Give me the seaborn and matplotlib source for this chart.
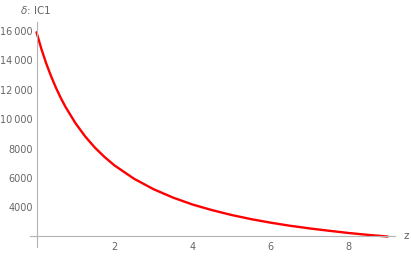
import matplotlib
matplotlib.use("Agg")
import matplotlib.pyplot as plt
import matplotlib.ticker as mticker
import seaborn as sns

# values
z = [0, 0.125, 0.25, 0.375, 0.5, 0.625, 0.75, 1, 1.25, 1.5, 1.75, 2, 2.5,
     3, 3.5, 4, 4.5, 5, 5.5, 6, 6.5, 7, 7.5, 8, 8.5, 9]
ic1 = [15880, 14750, 13760, 12890, 12110, 11410, 10790, 9710, 8810, 8050,
       7410, 6850, 5950, 5240, 4670, 4200, 3820, 3490, 3210, 2970, 2760,
       2580, 2420, 2270, 2140, 2030]

x_ticks = [2, 4, 6, 8]
x_labels = ["2", "4", "6", "8"]
y_ticks = [4000, 6000, 8000, 10000, 12000, 14000, 16000]
y_labels = ["4000", "6000", "8000", "10\u2009000", "12\u2009000", "14\u2009000", "16\u2009000"]
x_minor = [i * 0.5 for i in range(0, 19)]
y_minor = [v for v in range(2500, 17000, 500)]

axis_gray = "#b3b3b3"
text_gray = "#666666"

sns.set_style("white")
plt.rcParams["font.family"] = ["DejaVu Sans"]

fig = plt.figure(figsize=(4.11, 2.56), dpi=100)
ax = fig.add_axes([30 / 411, (256 - 246.7) / 256, 365 / 411, 225 / 256])

sns.lineplot(x=z, y=ic1, color="#ff0000", lw=1.7, ax=ax)

ax.set_xlim(-0.167, 9.19)
ax.set_ylim(1340, 16600)

# Mathematica-style crossing axes
ax.spines["left"].set_position(("data", 0))
ax.spines["bottom"].set_position(("data", 2050))
for s in ["top", "right"]:
    ax.spines[s].set_visible(False)
for s in ["left", "bottom"]:
    ax.spines[s].set_color(axis_gray)
    ax.spines[s].set_linewidth(0.8)

ax.xaxis.set_major_locator(mticker.FixedLocator(x_ticks))
ax.xaxis.set_major_formatter(mticker.FixedFormatter(x_labels))
ax.xaxis.set_minor_locator(mticker.FixedLocator(x_minor))
ax.yaxis.set_major_locator(mticker.FixedLocator(y_ticks))
ax.yaxis.set_major_formatter(mticker.FixedFormatter(y_labels))
ax.yaxis.set_minor_locator(mticker.FixedLocator(y_minor))

ax.tick_params(which="both", direction="in", color=axis_gray, width=0.7,
               labelsize=7, labelcolor=text_gray)
ax.tick_params(which="major", length=3)
ax.tick_params(which="minor", length=1.7)
ax.tick_params(axis="x", which="major", pad=4)
ax.tick_params(axis="y", which="major", pad=2.5)

ax.set_xlabel("")
ax.set_ylabel("")

ax.annotate("z", xy=(1, 2050), xycoords=("axes fraction", "data"),
            xytext=(6, 0), textcoords="offset points",
            ha="left", va="center", fontsize=7.5, color=text_gray)
fig.text(36 / 411, 1 - 10 / 256, r"$\delta$: IC1", ha="center", va="center",
         fontsize=7.5, color=text_gray)

fig.savefig("out.png", dpi=100)
